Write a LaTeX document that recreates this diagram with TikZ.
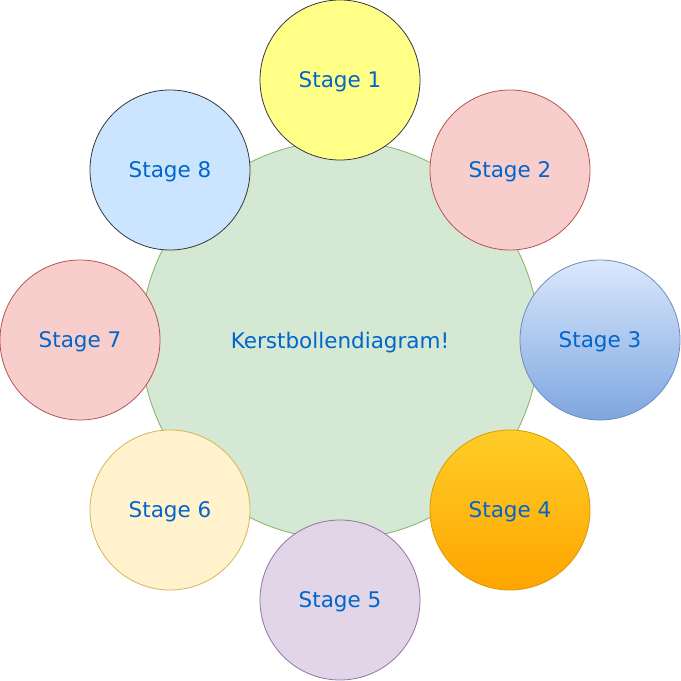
\documentclass[tikz,border=0pt]{standalone}
\usepackage{fontspec}
\setmainfont{DejaVu Sans}
\usetikzlibrary{positioning}

\definecolor{txtblue}{HTML}{0066CC}
\definecolor{hubfill}{HTML}{D5E8D4}
\definecolor{hubline}{HTML}{82B366}
\definecolor{darkline}{HTML}{36393D}
\definecolor{yelfill}{HTML}{FFFF88}
\definecolor{redfill}{HTML}{F8CECC}
\definecolor{redline}{HTML}{B85450}
\definecolor{bluetop}{HTML}{DAE8FC}
\definecolor{bluebot}{HTML}{7EA6E0}
\definecolor{blueline}{HTML}{6C8EBF}
\definecolor{orgtop}{HTML}{FFCD28}
\definecolor{orgbot}{HTML}{FFA500}
\definecolor{orgline}{HTML}{D79B00}
\definecolor{lilfill}{HTML}{E1D5E7}
\definecolor{lilline}{HTML}{9673A6}
\definecolor{crmfill}{HTML}{FFF2CC}
\definecolor{crmline}{HTML}{D6B656}
\definecolor{skyfill}{HTML}{CCE5FF}

\begin{document}
\begin{tikzpicture}[
    x=1pt, y=1pt,
    every node/.style={font=\fontsize{21.5}{25}\selectfont, text=txtblue, text depth=0pt},
    hubbox/.style={
        circle, draw=hubline, fill=hubfill, line width=0.8pt,
        minimum size=398pt, inner sep=0pt
    },
    stagebox/.style={
        circle, draw=darkline, line width=0.8pt,
        minimum size=160pt, inner sep=0pt
    }
]
\useasboundingbox (0,0) rectangle (681,681);

% hub
\node[hubbox] (hub) at (340,341) {Kerstbollendiagram!};

% stages, clockwise from the top
\node[stagebox, fill=yelfill] (s1) at (340,601) {Stage 1};
\node[stagebox, draw=redline, fill=redfill] (s2) at (510,511) {Stage 2};
\node[stagebox, draw=blueline, top color=bluetop, bottom color=bluebot] (s3) at (600,341) {Stage 3};
\node[stagebox, draw=orgline, top color=orgtop, bottom color=orgbot] (s4) at (510,171) {Stage 4};
\node[stagebox, draw=lilline, fill=lilfill] (s5) at (340,81) {Stage 5};
\node[stagebox, draw=crmline, fill=crmfill] (s6) at (170,171) {Stage 6};
\node[stagebox, draw=redline, fill=redfill] (s7) at (80,341) {Stage 7};
\node[stagebox, fill=skyfill] (s8) at (170,511) {Stage 8};

\end{tikzpicture}
\end{document}
